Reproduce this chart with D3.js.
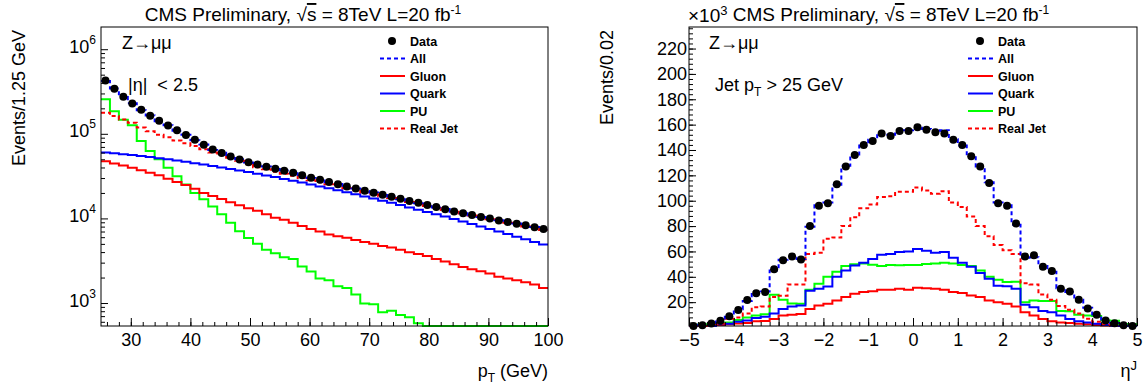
<!DOCTYPE html>
<html>
<head>
<meta charset="utf-8">
<script src="https://cdn.jsdelivr.net/npm/d3@7"></script>
<style>
  body { margin: 0; background: #fff; }
  svg { font-family: "Liberation Sans", Arial, Helvetica, sans-serif; }
  text { white-space: pre; }
</style>
</head>
<body>
<svg id="chart" width="1144" height="390"></svg>
<script>
// ---- left panel: jet pT, 50 bins from 25 to 100 GeV ----
const ptEdges = d3.range(51).map(i => 25 + 1.5 * i);

const ptData = [428000, 340000, 275000, 228000, 192000, 164000, 143000, 125000, 110000, 96600,
  85100, 74100, 65300, 59200, 54100, 49800, 46200, 43400, 40900, 38700,
  36700, 34700, 32400, 30300, 28600, 26900, 25400, 23900, 22500, 21300,
  20100, 19100, 18000, 17100, 16100, 15300, 14400, 13600, 12800, 12100,
  11500, 11000, 10400, 9950, 9450, 9080, 8670, 8280, 7870, 7520];
const ptAll = [420000, 343000, 272000, 230000, 190000, 165000, 141000, 126000, 108500, 97500,
  84000, 74800, 64500, 59800, 53600, 50200, 45800, 43000, 41200, 38300,
  36900, 34300, 32600, 30000, 28800, 26700, 25500, 23700, 22600, 21100,
  20200, 18900, 18100, 16900, 16200, 15100, 14500, 13500, 12900, 12000,
  11500, 10900, 10400, 9850, 9500, 9000, 8700, 8200, 7900, 7400];
const ptRealJet = [177800, 162200, 147900, 134900, 118900, 107200, 97700, 91200, 83200, 77300,
  71800, 65500, 60300, 56000, 52000, 47900, 43700, 40300, 38000, 35600,
  33700, 32000, 30100, 28300, 26800, 25400, 24000, 22700, 21500, 20300,
  19300, 18300, 17400, 16400, 15600, 14800, 14000, 13300, 12600, 12000,
  11400, 10800, 10300, 9770, 9330, 8910, 8470, 8050, 7660, 7280];
const ptQuark = [60300, 58900, 57500, 56100, 54600, 53100, 51500, 49900, 48300, 46700,
  45000, 43400, 41700, 40100, 38500, 36900, 35300, 33700, 32200, 30800,
  29300, 27900, 26500, 25200, 23900, 22700, 21500, 20400, 19300, 18200,
  17200, 16200, 15300, 14400, 13500, 12700, 11900, 11200, 10500, 9840,
  9200, 8610, 8050, 7520, 7010, 6530, 6080, 5660, 5270, 4900];
const ptGluon = [47400, 44500, 42200, 39800, 37200, 34700, 32400, 29500, 26900, 24800,
  22400, 20000, 18400, 17000, 15500, 14300, 13200, 12300, 11200, 10200,
  9660, 8910, 8130, 7500, 7000, 6460, 6170, 5890, 5560, 5250,
  5010, 4730, 4520, 4270, 3980, 3800, 3590, 3310, 3090, 2880,
  2660, 2510, 2370, 2240, 2040, 1950, 1860, 1760, 1660, 1510];
const ptPU = [255900, 185400, 146200, 125900, 82400, 62500, 50100, 39800, 31600, 25100,
  20000, 16900, 13800, 11200, 8870, 7050, 5860, 5010, 4250, 3870,
  3470, 3310, 2700, 2360, 1950, 1860, 1580, 1510, 1260, 990,
  970, 780, 810, 720, 680, 575, 490, 470, 430, 400,
  380, 350, 330, 300, 290, 270, 250, 240, 220, 210];

// ---- right panel: jet eta, 50 bins from -5 to 5 (values x10^3) ----
const etaEdges = d3.range(51).map(i => -5 + 0.2 * i);

const etaData = [1.0, 1.8, 3.2, 5.4, 8.9, 13.9, 21.8, 27.0, 28.0, 46.0,
  53.0, 56.0, 53.6, 80.0, 96.0, 98.0, 113, 127, 136, 144,
  147, 153, 151, 155, 155, 158, 156, 154, 153, 148,
  144, 135, 127, 114, 98.0, 96.0, 82.0, 56.0, 57.0, 48.0,
  44.6, 30.6, 28.5, 21.9, 15.0, 10.0, 5.5, 3.3, 1.8, 1.0];
const etaAll = [1.5, 2.2, 3.5, 5.8, 8.5, 14.5, 21.0, 26.5, 28.5, 45.0,
  53.5, 55.0, 54.0, 79.5, 96.5, 98.5, 112.5, 127.5, 136.5, 143.5,
  148, 152.5, 152, 155.5, 155.5, 157.5, 156.5, 155, 155.5, 148.5,
  143.5, 135.5, 127, 114.5, 98.5, 96.5, 81, 55, 55.5, 48.5,
  44, 31, 28, 22, 15.5, 9.5, 5, 3.5, 2, 1.2];
const etaRealJet = [0.5, 1.0, 1.5, 3.0, 7.0, 8.0, 11.0, 16.0, 16.5, 24.0,
  25.0, 34.0, 34.0, 58.0, 59.0, 70.0, 71.0, 80.0, 87.0, 94.0,
  97.0, 103, 103.5, 107, 107, 110.5, 108, 105.5, 107.5, 98.5,
  95.0, 87.5, 80.0, 72.0, 65.0, 61.0, 58.0, 35.0, 34.0, 26.0,
  22.0, 17.0, 14.0, 11.0, 7.0, 4.5, 2.5, 1.5, 1.0, 0.5];
const etaQuark = [0.5, 0.8, 1.2, 2.5, 3.0, 4.5, 5.5, 7.5, 8.5, 11.0,
  14.7, 16.5, 17.4, 29.0, 30.6, 32.4, 40.0, 45.0, 49.0, 51.0,
  54.0, 57.4, 58.0, 59.5, 60.0, 62.0, 60.5, 59.0, 59.5, 55.0,
  51.0, 48.0, 43.0, 38.5, 33.0, 32.5, 30.6, 18.0, 16.0, 13.0,
  12.0, 9.4, 6.8, 5.0, 4.0, 3.0, 2.0, 1.2, 0.8, 0.5];
const etaGluon = [0.5, 0.7, 1.0, 2.0, 2.5, 3.2, 3.5, 5.0, 5.2, 6.8,
  9.5, 10.0, 10.7, 14.7, 17.4, 18.7, 21.3, 24.0, 26.6, 28.0,
  28.7, 29.8, 29.8, 30.6, 29.8, 31.4, 31.0, 30.6, 29.8, 28.0,
  27.3, 25.3, 24.0, 21.3, 20.0, 18.7, 16.5, 12.0, 9.4, 6.8,
  5.0, 4.0, 3.5, 3.0, 2.5, 2.0, 1.5, 1.0, 0.7, 0.5];
const etaPU = [2.0, 2.3, 2.5, 3.3, 4.0, 6.0, 8.0, 9.5, 10.5, 25.8,
  22.0, 19.0, 18.7, 29.8, 34.5, 40.0, 44.0, 48.6, 49.9, 50.4,
  49.6, 48.6, 49.4, 49.2, 49.4, 49.4, 50.0, 50.4, 51.0, 50.4,
  49.4, 48.6, 45.0, 40.0, 37.7, 35.9, 36.0, 20.0, 21.3, 21.0,
  21.0, 13.0, 12.8, 10.0, 9.4, 9.0, 5.5, 5.4, 2.8, 2.5];

const legendLabels = ['Data', 'All', 'Gluon', 'Quark', 'PU', 'Real Jet'];

const BLUE = '#0000ff', RED = '#ff0000', GREEN = '#00ff00';

const svg = d3.select('#chart');
svg.append('rect').attr('width', 1144).attr('height', 390).attr('fill', '#fff');

const yTop = 27, yBot = 326;

// scales
const xL = d3.scaleLinear().domain([25, 100]).range([101, 548]);
const yL = d3.scaleLog().domain([535, 1.83e6]).range([yBot, yTop]).clamp(true);
const xR = d3.scaleLinear().domain([-5, 5]).range([689, 1137]);
const yR = d3.scaleLinear().domain([1.2, 237]).range([yBot, yTop]).clamp(true);

function styleAxis(g) {
  g.select('.domain').remove();
  g.selectAll('line').attr('stroke', '#000').attr('stroke-width', 1);
  g.selectAll('text').attr('fill', '#000').attr('font-size', 18)
    .attr('font-family', '"Liberation Sans", Arial, Helvetica, sans-serif');
}

function drawHist(x, y, edges, vals, color, dash) {
  const pts = vals.map((v, i) => [edges[i], v]);
  pts.push([edges[edges.length - 1], vals[vals.length - 1]]);
  const line = d3.line().x(d => x(d[0])).y(d => y(d[1])).curve(d3.curveStepAfter);
  svg.append('path')
    .attr('d', line(pts))
    .attr('fill', 'none')
    .attr('stroke', color)
    .attr('stroke-width', 2)
    .attr('stroke-dasharray', dash || null);
}

function drawDots(x, y, edges, vals) {
  svg.append('g').selectAll('circle')
    .data(vals)
    .enter()
    .append('circle')
    .attr('cx', (d, i) => x((edges[i] + edges[i + 1]) / 2))
    .attr('cy', d => y(d))
    .attr('r', 4)
    .attr('fill', '#000');
}

function drawLegend(x0) {
  const styles = [null, [BLUE, '4,3'], [RED], [BLUE], [GREEN], [RED, '4,3']];
  legendLabels.forEach((lab, i) => {
    const yy = 41 + 17.5 * i;
    if (i === 0) {
      svg.append('circle').attr('cx', x0 + 291).attr('cy', yy).attr('r', 4).attr('fill', '#000');
    } else {
      svg.append('line')
        .attr('x1', x0 + 279).attr('x2', x0 + 304).attr('y1', yy).attr('y2', yy)
        .attr('stroke', styles[i][0]).attr('stroke-width', 2)
        .attr('stroke-dasharray', styles[i][1] || null);
    }
    svg.append('text')
      .attr('x', x0 + 309).attr('y', yy + 4.5)
      .attr('font-size', 12.5).attr('font-weight', 'bold')
      .text(lab);
  });
}

function drawTitle(cx) {
  const t = svg.append('text').attr('x', cx).attr('y', 21)
    .attr('text-anchor', 'middle').attr('font-size', 19);
  t.append('tspan').text('CMS Preliminary, ');
  t.append('tspan').text('√');
  t.append('tspan').text('s').style('text-decoration', 'overline');
  t.append('tspan').text(' = 8TeV L=20 fb');
  t.append('tspan').attr('dy', -7).attr('font-size', 12).text('-1');
}

// ---------------- left panel ----------------
drawHist(xL, yL, ptEdges, ptPU, GREEN);
drawHist(xL, yL, ptEdges, ptGluon, RED);
drawHist(xL, yL, ptEdges, ptQuark, BLUE);
drawHist(xL, yL, ptEdges, ptRealJet, RED, '4,3');
drawHist(xL, yL, ptEdges, ptAll, BLUE, '4,3');
drawDots(xL, yL, ptEdges, ptData);

svg.append('g').attr('transform', `translate(0,${yBot})`)
  .call(d3.axisBottom(xL).tickValues(d3.range(26, 100.1, 2)).tickSize(-4).tickFormat(''))
  .call(styleAxis);
svg.append('g').attr('transform', `translate(0,${yBot})`)
  .call(d3.axisBottom(xL).tickValues(d3.range(30, 100.1, 10)).tickSize(-8).tickPadding(7).tickFormat(d3.format('d')))
  .call(styleAxis);

const logMinor = yL.ticks().filter(v => Math.abs(Math.log10(v) - Math.round(Math.log10(v))) > 1e-6);
svg.append('g').attr('transform', 'translate(101,0)')
  .call(d3.axisLeft(yL).tickValues(logMinor).tickSize(-4).tickFormat(''))
  .call(styleAxis);
svg.append('g').attr('transform', 'translate(101,0)')
  .call(d3.axisLeft(yL).tickValues([1e3, 1e4, 1e5, 1e6]).tickSize(-7).tickPadding(5).tickFormat(''))
  .call(styleAxis)
  .selectAll('.tick text')
  .attr('dy', '0.32em')
  .each(function (d) {
    const t = d3.select(this);
    t.append('tspan').attr('font-size', 18).attr('dy', 3).text('10');
    t.append('tspan').attr('font-size', 12).attr('dy', -9).text(Math.round(Math.log10(d)));
  });

svg.append('rect').attr('x', 101).attr('y', yTop).attr('width', 447).attr('height', yBot - yTop)
  .attr('fill', 'none').attr('stroke', '#000').attr('stroke-width', 1);

drawLegend(101);
drawTitle(303);

svg.append('text').attr('x', 122).attr('y', 49).attr('font-size', 18).text('Z→μμ');
svg.append('text').attr('x', 128).attr('y', 91).attr('font-size', 18).text('|η|  < 2.5');

svg.append('text').attr('transform', 'translate(25,30) rotate(-90)')
  .attr('text-anchor', 'end').attr('font-size', 18).text('Events/1.25 GeV');

const xlabL = svg.append('text').attr('x', 548).attr('y', 377).attr('text-anchor', 'end').attr('font-size', 18);
xlabL.append('tspan').text('p');
xlabL.append('tspan').attr('dy', 5).attr('font-size', 12).text('T');
xlabL.append('tspan').attr('dy', -5).text(' (GeV)');

// ---------------- right panel ----------------
drawHist(xR, yR, etaEdges, etaGluon, RED);
drawHist(xR, yR, etaEdges, etaPU, GREEN);
drawHist(xR, yR, etaEdges, etaQuark, BLUE);
drawHist(xR, yR, etaEdges, etaRealJet, RED, '4,3');
drawHist(xR, yR, etaEdges, etaAll, BLUE, '4,3');
drawDots(xR, yR, etaEdges, etaData);

svg.append('g').attr('transform', `translate(0,${yBot})`)
  .call(d3.axisBottom(xR).tickValues(d3.range(-4.8, 5, 0.2)).tickSize(-4).tickFormat(''))
  .call(styleAxis);
svg.append('g').attr('transform', `translate(0,${yBot})`)
  .call(d3.axisBottom(xR).tickValues(d3.range(-5, 5.1, 1)).tickSize(-8).tickPadding(7).tickFormat(d3.format('d')))
  .call(styleAxis);

svg.append('g').attr('transform', 'translate(689,0)')
  .call(d3.axisLeft(yR).tickValues(d3.range(4, 237, 4)).tickSize(-4).tickFormat(''))
  .call(styleAxis);
svg.append('g').attr('transform', 'translate(689,0)')
  .call(d3.axisLeft(yR).tickValues(d3.range(20, 221, 20)).tickSize(-7).tickPadding(2).tickFormat(d3.format('d')))
  .call(styleAxis);

svg.append('rect').attr('x', 689).attr('y', yTop).attr('width', 448).attr('height', yBot - yTop)
  .attr('fill', 'none').attr('stroke', '#000').attr('stroke-width', 1);

drawLegend(689);
drawTitle(891);

const mult = svg.append('text').attr('x', 688).attr('y', 22).attr('font-size', 19);
mult.append('tspan').text('×10');
mult.append('tspan').attr('dy', -7).attr('font-size', 13).text('3');

svg.append('text').attr('x', 709).attr('y', 49).attr('font-size', 18).text('Z→μμ');
const jet = svg.append('text').attr('x', 715).attr('y', 91).attr('font-size', 18);
jet.append('tspan').text('Jet p');
jet.append('tspan').attr('dy', 5).attr('font-size', 12).text('T');
jet.append('tspan').attr('dy', -5).text(' > 25 GeV');

svg.append('text').attr('transform', 'translate(613,30) rotate(-90)')
  .attr('text-anchor', 'end').attr('font-size', 18).text('Events/0.02');

const xlabR = svg.append('text').attr('x', 1137).attr('y', 377).attr('text-anchor', 'end').attr('font-size', 18);
xlabR.append('tspan').text('η');
xlabR.append('tspan').attr('dy', -7).attr('font-size', 13).text('J');
</script>
</body>
</html>
